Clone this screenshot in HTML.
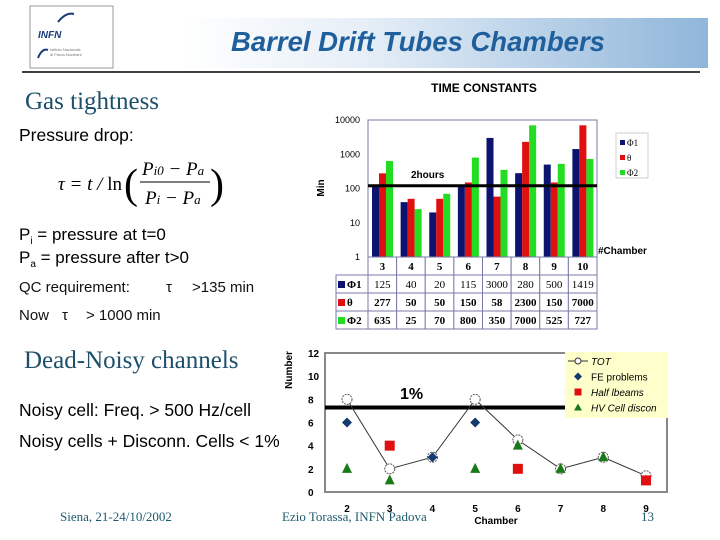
<!DOCTYPE html>
<html><head><meta charset="utf-8">
<style>
body{margin:0;width:720px;height:540px;background:#fff;overflow:hidden;font-family:"Liberation Sans",sans-serif}
svg{display:block}
</style></head><body>
<svg width="720" height="540" viewBox="0 0 720 540" xmlns="http://www.w3.org/2000/svg">
<defs>
<linearGradient id="tg" x1="0" x2="1" y1="0" y2="0">
<stop offset="0" stop-color="#ffffff"/><stop offset="0.35" stop-color="#e6eef7"/><stop offset="1" stop-color="#8fb6da"/>
</linearGradient>
</defs>
<rect x="180" y="18" width="528" height="50" fill="url(#tg)"/>
<g>
<rect x="30" y="6" width="83" height="62" fill="#fff" stroke="#999"/>
<path d="M58 22 Q66 12 74 14" stroke="#1a3a7a" stroke-width="2" fill="none"/>
<text x="38" y="38" font-size="10" font-weight="bold" font-style="italic" fill="#1a3a7a">INFN</text>
<path d="M38 58 Q42 48 48 50" stroke="#1a3a7a" stroke-width="2" fill="none"/>
<text x="50" y="51" font-size="4" fill="#777">Istituto Nazionale</text>
<text x="50" y="56" font-size="4" fill="#777">di Fisica Nucleare</text>
</g>
<text x="418" y="51" text-anchor="middle" font-size="27.5" font-weight="bold" font-style="italic" fill="#1f5f9c">Barrel Drift Tubes Chambers</text>
<line x1="22" y1="72" x2="700" y2="72" stroke="#000" stroke-width="1.5"/>

<text x="25" y="109" font-family="Liberation Serif,serif" font-size="25" fill="#1d4f6b">Gas tightness</text>
<text x="19" y="141" font-size="17.5" fill="#000">Pressure drop:</text>
<g font-family="Liberation Serif,serif" font-style="italic" font-size="19">
<text x="58" y="190">τ = t / <tspan font-style="normal">ln</tspan></text>
<text x="124" y="198" font-style="normal" font-size="42">(</text>
<text x="210" y="198" font-style="normal" font-size="42">)</text>
<text x="142" y="175">P<tspan font-size="13">i0</tspan> − P<tspan font-size="13">a</tspan></text>
<line x1="140" y1="182" x2="210" y2="182" stroke="#000" stroke-width="1"/>
<text x="145" y="204">P<tspan font-size="13">i</tspan> − P<tspan font-size="13">a</tspan></text>
</g>
<text x="19" y="240" font-size="17">P<tspan font-size="10" dy="4">i</tspan><tspan dy="-4"> = pressure at t=0</tspan></text>
<text x="19" y="263" font-size="17">P<tspan font-size="10" dy="4">a</tspan><tspan dy="-4"> = pressure after t&gt;0</tspan></text>
<text x="19" y="292" font-size="15" fill="#111">QC requirement:<tspan x="166">τ</tspan><tspan x="192">&gt;135 min</tspan></text>
<text x="19" y="320" font-size="15" fill="#111">Now<tspan x="62">τ</tspan><tspan x="86">&gt; 1000 min</tspan></text>

<text x="24" y="368" font-family="Liberation Serif,serif" font-size="25" fill="#1d4f6b">Dead-Noisy channels</text>
<text x="19" y="416" font-size="17.5">Noisy cell: Freq. &gt; 500 Hz/cell</text>
<text x="19" y="447" font-size="17.5">Noisy cells + Disconn. Cells &lt; 1%</text>

<text x="60" y="521" font-family="Liberation Serif,serif" font-size="13" fill="#1d5a6e">Siena, 21-24/10/2002</text>
<text x="282" y="521" font-family="Liberation Serif,serif" font-size="13" fill="#1d5a6e">Ezio Torassa, INFN Padova</text>
<text x="641" y="521" font-family="Liberation Serif,serif" font-size="13" fill="#1d5a6e">13</text>

<g id="topchart"></g>
<g id="botchart"></g>
</svg>
<script>
const NS="http://www.w3.org/2000/svg";
function mk(p,t,a,txt){const e=document.createElementNS(NS,t);for(const k in a)e.setAttribute(k,a[k]);if(txt!==undefined)e.textContent=txt;p.appendChild(e);return e;}

// ---- Top chart data ----
const chambers=["3","4","5","6","7","8","9","10"];
const phi1=[125,40,20,115,3000,280,500,1419];
const theta=[277,50,50,150,58,2300,150,7000];
const phi2=[635,25,70,800,350,7000,525,727];
const logTicks=[1,10,100,1000,10000];
const twoHours=120;

const tc=document.getElementById('topchart');
const L=368,R=597,T=120,B=257;
const ty=v=>B-(Math.log10(v)/4)*(B-T);
const gw=(R-L)/chambers.length;
const gx=i=>L+i*gw;
let e;
e=mk(tc,'text',{x:484,y:92,'text-anchor':'middle','font-size':12,'font-weight':'bold'},'TIME CONSTANTS');

e=mk(tc,'text',{x:0,y:0,transform:'translate(324,188) rotate(-90)','text-anchor':'middle','font-size':10,'font-weight':'bold'},'Min');

e=mk(tc,'rect',{x:L,y:T,width:R-L,height:B-T,fill:'#fff',stroke:'#7a7aa8','stroke-width':1});

logTicks.forEach(v=>{const t=mk(tc,'text',{x:360,y:ty(v)+3,'text-anchor':'end','font-size':9},String(v));
});
const series=[[phi1,'#0c1470','phi1'],[theta,'#e01010','theta'],[phi2,'#22dd22','phi2']];
series.forEach((s,si)=>{s[0].forEach((v,i)=>{const b=mk(tc,'rect',{x:gx(i)+4+si*7,y:ty(v),width:7,height:B-ty(v),fill:s[1]});
});});
e=mk(tc,'line',{x1:L,x2:R,y1:ty(twoHours),y2:ty(twoHours),stroke:'#000','stroke-width':3});

e=mk(tc,'text',{x:411,y:178,'font-size':10,'font-weight':'bold'},'2hours');

e=mk(tc,'text',{x:598,y:254,'font-size':10,'font-weight':'bold'},'#Chamber');

e=mk(tc,'rect',{x:616,y:133,width:32,height:45,fill:'#fff',stroke:'#ccc'});

[['Φ1','#0c1470'],['θ','#e01010'],['Φ2','#22dd22']].forEach((l,i)=>{
 const r=mk(tc,'rect',{x:620,y:140+i*15,width:5,height:5,fill:l[1]});
 const t=mk(tc,'text',{x:627,y:146+i*15,'font-size':9,'font-family':'Liberation Serif,serif'},l[0]);});
const rows=[[null,chambers],['Φ1',phi1],['θ',theta],['Φ2',phi2]];
const rowY=[257,275,293,311,329];
const cols=['#0c1470','#0c1470','#e01010','#22dd22'];
rows.forEach((r,ri)=>{
 const y0=rowY[ri],h=rowY[ri+1]-y0;
 if(ri>0){const c=mk(tc,'rect',{x:336,y:y0,width:32,height:h,fill:'#fff',stroke:'#7a7aa8'});
  const sw=mk(tc,'rect',{x:338,y:y0+6,width:7,height:7,fill:cols[ri]});
  const tt=mk(tc,'text',{x:347,y:y0+13,'font-size':11,'font-weight':'bold','font-family':'Liberation Serif,serif'},r[0]);}
 r[1].forEach((v,i)=>{const c=mk(tc,'rect',{x:gx(i),y:y0,width:gw,height:h,fill:'#fff',stroke:'#7a7aa8'});
  const t=mk(tc,'text',{x:gx(i)+gw/2,y:y0+13,'text-anchor':'middle','font-size':11,'font-weight':ri===1?'normal':'bold','font-family':'Liberation Serif,serif'},String(v));});
});

// ---- Bottom chart data ----
const bCats=["2","3","4","5","6","7","8","9"];
const tot=[8,2,3,8,4.5,2,3,1.4];
const fe=[6,null,3,6,null,null,null,null];
const half=[null,4,null,null,2,null,null,1];
const hv=[2,1,null,2,4,2,3,1];
const bTicks=[0,2,4,6,8,10,12];
const onePct=7.3;

const bc=document.getElementById('botchart');
const BL=325,BR=667,BT=353,BB=492;
const bx=i=>347+i*(646-347)/7;
const by=v=>BB-v/12*(BB-BT);
e=mk(bc,'rect',{x:BL,y:BT,width:BR-BL,height:BB-BT,fill:'#fff',stroke:'#888','stroke-width':2});

e=mk(bc,'text',{x:0,y:0,transform:'translate(292,370) rotate(-90)','text-anchor':'middle','font-size':10,'font-weight':'bold'},'Number');

bTicks.forEach(v=>{const t=mk(bc,'text',{x:308,y:by(v)+4,'font-size':10,'font-weight':'bold'},String(v));});
bCats.forEach((c,i)=>{const t=mk(bc,'text',{x:bx(i),y:512,'text-anchor':'middle','font-size':10,'font-weight':'bold'},c);});
e=mk(bc,'text',{x:496,y:524,'text-anchor':'middle','font-size':10,'font-weight':'bold'},'Chamber');

e=mk(bc,'line',{x1:BL,x2:566,y1:by(onePct),y2:by(onePct),stroke:'#000','stroke-width':4});

e=mk(bc,'text',{x:400,y:399,'font-size':16,'font-weight':'bold'},'1%');

e=mk(bc,'polyline',{points:tot.map((v,i)=>bx(i)+','+by(v)).join(' '),fill:'none',stroke:'#333','stroke-width':1});

tot.forEach((v,i)=>{const c=mk(bc,'circle',{cx:bx(i),cy:by(v),r:5,fill:'#fff',stroke:'#555','stroke-dasharray':'2,1'});});
hv.forEach((v,i)=>{if(v===null)return;const x=bx(i),y=by(v);const p=mk(bc,'polygon',{points:`${x},${y-6} ${x-5},${y+4} ${x+5},${y+4}`,fill:'#1a7a1a'});});
half.forEach((v,i)=>{if(v===null)return;const r=mk(bc,'rect',{x:bx(i)-5,y:by(v)-5,width:10,height:10,fill:'#e01010'});});
fe.forEach((v,i)=>{if(v===null)return;const x=bx(i),y=by(v);const p=mk(bc,'polygon',{points:`${x},${y-5} ${x+5},${y} ${x},${y+5} ${x-5},${y}`,fill:'#143a6e'});});
e=mk(bc,'rect',{x:565,y:352,width:103,height:66,fill:'#ffffcc'});

const lg=[['TOT','tot'],['FE problems','fe'],['Half lbeams','half'],['HV Cell discon','hv']];
lg.forEach((l,i)=>{const y=361+i*15.5,x=578;
 if(l[1]==='tot'){const a=mk(bc,'line',{x1:568,x2:588,y1:y,y2:y,stroke:'#333'});
  const c=mk(bc,'circle',{cx:x,cy:y,r:3,fill:'#fff',stroke:'#333'});}
 else if(l[1]==='fe'){const p=mk(bc,'polygon',{points:`${x},${y-4} ${x+4},${y} ${x},${y+4} ${x-4},${y}`,fill:'#143a6e'});}
 else if(l[1]==='half'){const r=mk(bc,'rect',{x:x-3.5,y:y-3.5,width:7,height:7,fill:'#e01010'});}
 else {const p=mk(bc,'polygon',{points:`${x},${y-4} ${x-4},${y+3} ${x+4},${y+3}`,fill:'#1a7a1a'});}
 const t=mk(bc,'text',{x:591,y:y+4,'font-size':10,'font-style':l[1]==='fe'?'normal':'italic'},l[0]);
 });
</script>
</body></html>
